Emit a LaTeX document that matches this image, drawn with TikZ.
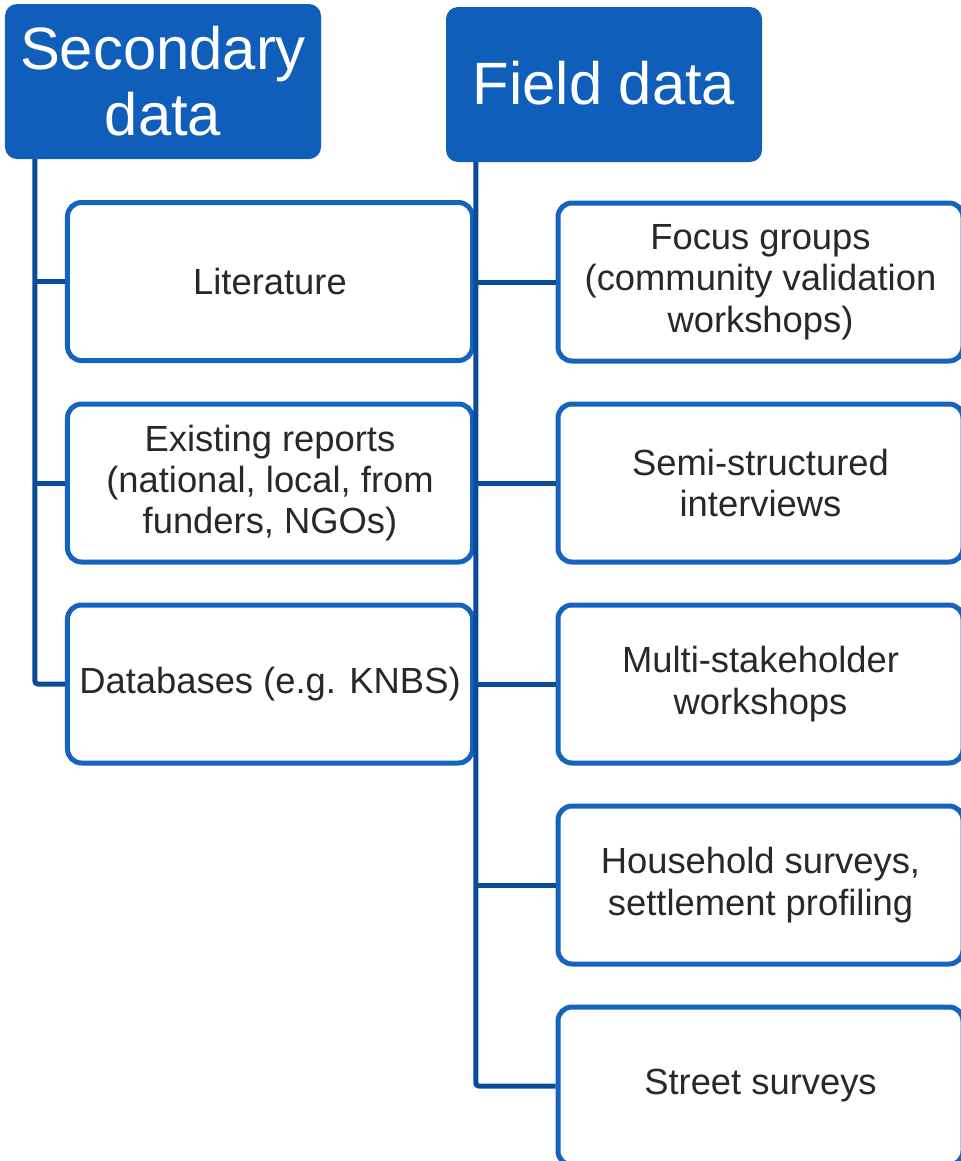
\documentclass[tikz,border=0pt]{standalone}
\usepackage{fontspec}
\setmainfont{Liberation Sans}
\definecolor{headfill}{RGB}{15,95,186}
\definecolor{boxline}{RGB}{21,99,190}
\definecolor{trunk}{RGB}{11,76,152}
\definecolor{ink}{RGB}{40,40,40}
\begin{document}
\begin{tikzpicture}[x=1bp,y=-1bp,
  header/.style={fill=headfill, draw=none, rounded corners=12bp,
    minimum width=316bp, minimum height=155bp, inner sep=0pt,
    text=white, align=center, font=\fontsize{60}{66}\selectfont},
  item/.style={draw=boxline, line width=5bp, fill=white, rounded corners=14bp,
    minimum width=405bp, minimum height=158bp, inner sep=0pt,
    text=ink, align=center, font=\fontsize{36.5}{41.5}\selectfont},
  link/.style={draw=trunk, line width=5bp, rounded corners=3bp}
]
\useasboundingbox (0,0) rectangle (961,1161);

% column headers
\node[header] (sec) at (163,81.5) {Secondary\\data};
\node[header] (fld) at (604,84.5) {\raisebox{4bp}{Field data}};

% secondary data sources
\node[item] (lit) at (270,281.5) {Literature};
\node[item] (rep) at (270,483) {Existing reports\\(national, local, from\\funders, NGOs)};
\node[item] (db)  at (270,684) {Databases (e.g. KNBS)};

% field data sources
\node[item] (fg)  at (760.5,282) {Focus groups\\(community validation\\workshops)};
\node[item] (ssi) at (760.5,483) {Semi-structured\\interviews};
\node[item] (msw) at (760.5,684) {Multi-stakeholder\\workshops};
\node[item] (hh)  at (760.5,885) {Household surveys,\\settlement profiling};
\node[item] (ss)  at (760.5,1086) {Street surveys};

% trunks running down from each header
\coordinate (ltop) at ([xshift=30bp]sec.south west);
\coordinate (rtop) at ([xshift=30bp]fld.south west);

\draw[link] (ltop) |- (db.west);
\draw[link] (lit.west) -- (lit.west -| ltop);
\draw[link] (rep.west) -- (rep.west -| ltop);

\draw[link] (rtop) |- (ss.west);
\draw[link] (fg.west) -- (fg.west -| rtop);
\draw[link] (ssi.west) -- (ssi.west -| rtop);
\draw[link] (msw.west) -- (msw.west -| rtop);
\draw[link] (hh.west) -- (hh.west -| rtop);
\end{tikzpicture}
\end{document}
